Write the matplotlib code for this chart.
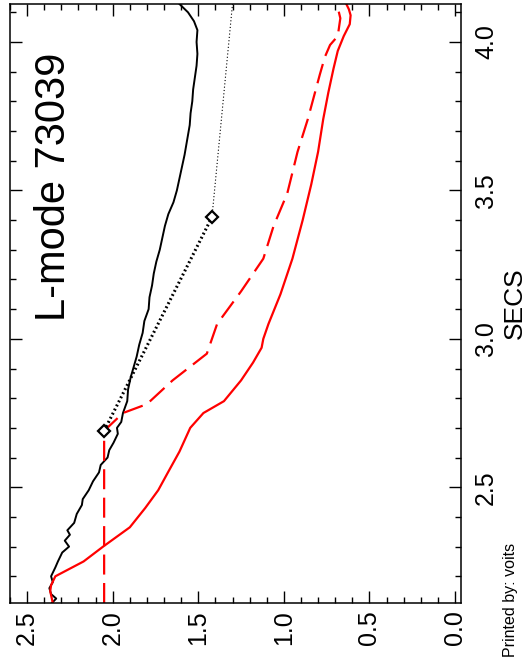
import matplotlib
matplotlib.use("Agg")
import matplotlib.pyplot as plt
from matplotlib.ticker import MultipleLocator

plt.rcParams['font.family'] = ['Liberation Sans', 'DejaVu Sans']

# black jagged trace (time in secs, value)
black_t = [2.110, 2.125, 2.140, 2.160, 2.180, 2.200, 2.230, 2.250, 2.280, 2.300,
           2.320, 2.340, 2.355, 2.380, 2.410, 2.440, 2.460, 2.490, 2.520, 2.550,
           2.575, 2.600, 2.625, 2.650, 2.680, 2.700, 2.720, 2.750, 2.790, 2.830,
           2.870, 2.900, 2.940, 2.980, 3.020, 3.060, 3.100, 3.140, 3.180, 3.220,
           3.260, 3.300, 3.340, 3.380, 3.420, 3.460, 3.500, 3.540, 3.580, 3.620,
           3.670, 3.720, 3.760, 3.800, 3.840, 3.880, 3.920, 3.960, 4.000, 4.040,
           4.070, 4.100, 4.128]
black_v = [2.355, 2.330, 2.360, 2.370, 2.350, 2.360, 2.335, 2.320, 2.295, 2.255,
           2.280, 2.250, 2.265, 2.225, 2.210, 2.180, 2.175, 2.140, 2.115, 2.080,
           2.070, 2.030, 2.020, 1.995, 1.970, 1.975, 1.950, 1.940, 1.915, 1.910,
           1.895, 1.880, 1.860, 1.845, 1.825, 1.815, 1.790, 1.785, 1.770, 1.760,
           1.745, 1.725, 1.710, 1.695, 1.675, 1.645, 1.625, 1.610, 1.595, 1.580,
           1.565, 1.550, 1.545, 1.535, 1.530, 1.520, 1.510, 1.505, 1.510, 1.505,
           1.525, 1.560, 1.610]

# red solid trace
red_t = [2.110, 2.150, 2.170, 2.200, 2.250, 2.300, 2.365, 2.430, 2.490, 2.547,
         2.620, 2.700, 2.750, 2.790, 2.860, 2.920, 2.970, 3.000, 3.050, 3.150,
         3.270, 3.400, 3.520, 3.630, 3.740, 3.830, 3.910, 3.970, 4.020, 4.060,
         4.090, 4.110, 4.128]
red_v = [2.350, 2.365, 2.360, 2.335, 2.170, 2.056, 1.900, 1.810, 1.734, 1.680,
         1.610, 1.547, 1.470, 1.350, 1.250, 1.180, 1.130, 1.120, 1.090, 1.020,
         0.950, 0.890, 0.840, 0.800, 0.770, 0.740, 0.710, 0.685, 0.650, 0.615,
         0.610, 0.620, 0.635]

# red dashed trace
dash_t = [2.110, 2.690, 2.750, 2.780, 2.860, 2.950, 3.000, 3.050, 3.160, 3.270,
          3.380, 3.490, 3.630, 3.740, 3.890, 3.950, 3.990, 4.020, 4.080, 4.128]
dash_v = [2.050, 2.050, 1.940, 1.800, 1.650, 1.450, 1.420, 1.390, 1.250, 1.120,
          1.060, 0.980, 0.920, 0.860, 0.790, 0.760, 0.730, 0.685, 0.670, 0.690]

# measured points (diamonds) and extrapolation
pts_t = [2.69, 3.41]
pts_v = [2.05, 1.42]
extrap_t = [3.41, 4.128]
extrap_v = [1.42, 1.30]

fig = plt.figure(figsize=(5.27, 6.64), dpi=100)
ax = fig.add_axes([10 / 527, 1 - 603 / 664, 451 / 527, 599 / 664])

ax.plot(black_v, black_t, color='black', lw=1.4)
ax.plot(red_v, red_t, color='red', lw=1.6)
ax.plot(dash_v, dash_t, color='red', lw=1.6, linestyle=(0, (9, 3.8)))
ax.plot(pts_v, pts_t, color='black', lw=2.2, linestyle=(0, (0.6, 0.9)))
ax.plot(extrap_v, extrap_t, color='black', lw=0.8, linestyle=(0, (1, 2)))
ax.plot(pts_v, pts_t, linestyle='none', marker='D', ms=6, mfc='white',
        mec='black', mew=1.6)

ax.set_xlim(2.6, -0.035)
ax.set_ylim(2.11, 4.128)

ax.set_xticks([2.5, 2.0, 1.5, 1.0, 0.5, 0.0],
              ['2.5', '2.0', '1.5', '1.0', '0.5', '0.0'],
              rotation=90, ha='center', va='top')
ax.set_yticks([2.5, 3.0, 3.5, 4.0], ['2.5', '3.0', '3.5', '4.0'],
              rotation=90, va='center')
ax.xaxis.set_minor_locator(MultipleLocator(0.1))
ax.yaxis.set_minor_locator(MultipleLocator(0.1))

ax.tick_params(which='both', direction='in', top=True, bottom=True,
               left=True, right=True, labelleft=False, labelright=True,
               labelsize=18, width=1)
ax.tick_params(axis='x', pad=5)
ax.tick_params(axis='y', pad=9.5)
ax.tick_params(which='major', length=8.5)
ax.tick_params(which='minor', length=4.3)
for s in ax.spines.values():
    s.set_linewidth(1.1)

ax.yaxis.set_label_position('right')
ax.set_ylabel('SECS', fontsize=19, rotation=90, labelpad=3)

ax.text(2.345, 3.06, 'L-mode 73039', rotation=90, ha='center', va='bottom',
        fontsize=30)

fig.text(510 / 527, 1 - 543 / 664, 'Printed by: voits', rotation=90,
         ha='center', va='top', fontsize=11.5)

fig.savefig('out.png', dpi=100)
